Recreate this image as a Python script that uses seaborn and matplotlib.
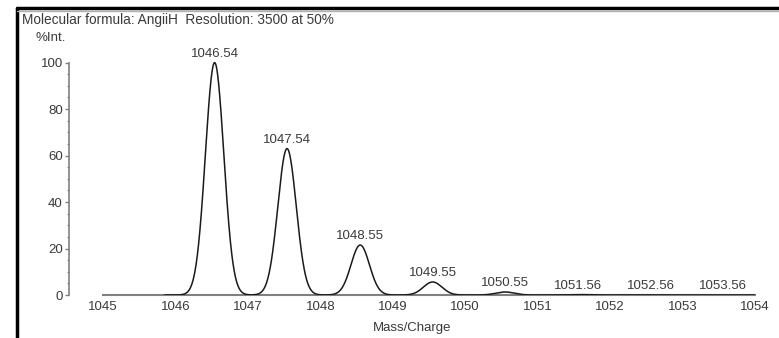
import numpy as np
import pandas as pd
import seaborn as sns
import matplotlib.pyplot as plt
from matplotlib.lines import Line2D

# isotope peaks
mz = [1046.54, 1047.54, 1048.55, 1049.55, 1050.55, 1051.56, 1052.56, 1053.56]
intensity = [100, 63, 21.5, 5.6, 1.3, 0.2, 0.03, 0.0]
peak_labels = ["1046.54", "1047.54", "1048.55", "1049.55", "1050.55", "1051.56", "1052.56", "1053.56"]
resolution = 3500  # from the header: 3500 at 50%
x_ticks = [1045, 1046, 1047, 1048, 1049, 1050, 1051, 1052, 1053, 1054]
y_ticks = [0, 20, 40, 60, 80, 100]

# profile spectrum built from the peak list and the stated resolution
grid = np.linspace(1045.85, 1054, 3000)
prof = np.zeros_like(grid)
for m, h in zip(mz, intensity):
    sigma = m / resolution / 2.3548
    prof += h * np.exp(-0.5 * ((grid - m) / sigma) ** 2)
df = pd.DataFrame({"Mass/Charge": grid, "%Int.": prof})

sns.set_style("white")
plt.rcParams["font.family"] = ["Liberation Sans", "DejaVu Sans"]
txt = "#3a3a3a"
gray = "#808080"
fs = 9.5

fig = plt.figure(figsize=(7.79, 3.38), dpi=100)
W, H = 779, 338
ax = fig.add_axes([69 / W, (H - 295) / H, (755 - 69) / W, (295 - 44) / H])

sns.lineplot(data=df, x="Mass/Charge", y="%Int.", ax=ax, color="#1a1a1a", lw=1.1, zorder=3)

ax.set_xlim(1045 - 34 / 72.3, 1054)
ax.set_ylim(0, 108)

for m, h, lab in zip(mz, intensity, peak_labels):
    ax.annotate(lab, (m, h), xytext=(0, 2), textcoords="offset points",
                ha="center", va="bottom", fontsize=fs, color=txt)

for s in ["top", "right"]:
    ax.spines[s].set_visible(False)
ax.spines["left"].set_bounds(0, 100)
ax.spines["bottom"].set_bounds(1045, 1054)
ax.spines["left"].set_color(gray)
ax.spines["bottom"].set_color(gray)
ax.spines["left"].set_linewidth(1.2)
ax.spines["bottom"].set_linewidth(1.5)

ax.set_xticks(x_ticks)
ax.set_xticklabels([str(t) for t in x_ticks])
ax.set_yticks(y_ticks)
ax.set_yticks(np.arange(0, 101, 5), minor=True)
ax.tick_params(axis="x", length=0, pad=4, labelsize=fs, labelcolor=txt)
ax.tick_params(axis="y", which="major", length=3, width=1, color=gray, pad=1.5,
               labelsize=fs, labelcolor=txt, left=True)
ax.tick_params(axis="y", which="minor", length=1.5, width=0.8, color=gray, left=True)

ax.set_xlabel("Mass/Charge", fontsize=fs, color=txt, labelpad=7)
ax.set_ylabel("")

fig.text(22 / W, 1 - 20 / H, "Molecular formula: AngiiH  Resolution: 3500 at 50%",
         fontsize=9.8, color=txt, va="center", ha="left")
fig.text(35 / W, 1 - 38 / H, "%Int.", fontsize=fs, color=txt, va="center", ha="left")

# frame lines of the original screenshot
fig.add_artist(Line2D([17 / W, 17 / W], [0, 1 - 8 / H], color="black", lw=2.5, transform=fig.transFigure))
fig.add_artist(Line2D([17 / W, 1], [1 - 8 / H, 1 - 8 / H], color="black", lw=2.5, transform=fig.transFigure))
fig.add_artist(Line2D([17 / W, 1], [1 - 10.5 / H, 1 - 10.5 / H], color="#b0b0b0", lw=1, transform=fig.transFigure))

fig.savefig("out.png", dpi=100)
